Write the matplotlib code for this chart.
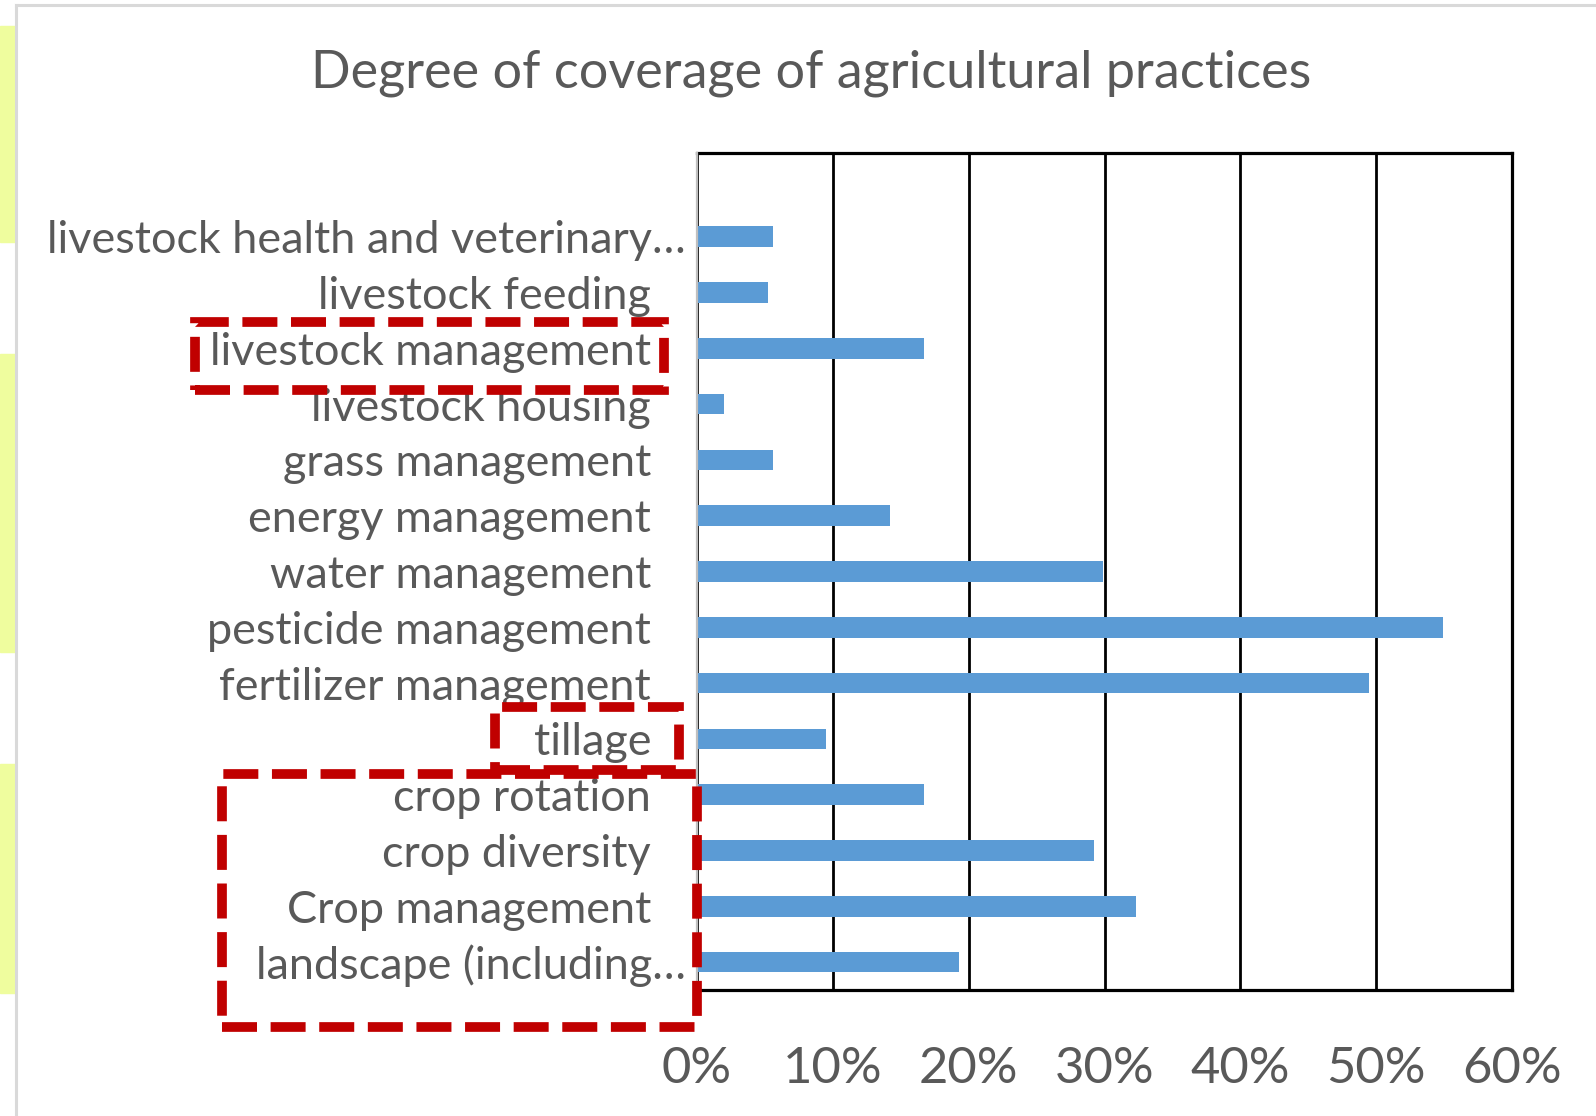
import matplotlib
matplotlib.use("Agg")
import matplotlib.pyplot as plt
from matplotlib.patches import Rectangle
from matplotlib.lines import Line2D
from matplotlib.ticker import PercentFormatter

plt.rcParams['font.family'] = ['Lato', 'DejaVu Sans']

# data, bottom to top
practices = [
    "landscape (including\u2026",
    "Crop management",
    "crop diversity",
    "crop rotation",
    "tillage",
    "fertilizer management",
    "pesticide management",
    "water management",
    "energy management",
    "grass management",
    "livestock housing",
    "livestock management",
    "livestock feeding",
    "livestock health and veterinary\u2026",
]
coverage = [19.3, 32.3, 29.2, 16.7, 9.5, 49.5, 54.9, 29.9, 14.2, 5.6, 2.0, 16.7, 5.2, 5.6]
xticks = [0, 10, 20, 30, 40, 50, 60]

W, H = 1596, 1116
fig = plt.figure(figsize=(W / 100, H / 100), dpi=100)
fig.patch.set_facecolor("white")

def fx(px):
    return px / W

def fy(py):
    return 1 - py / H

# yellow strips at the left edge
for y0, y1 in [(26, 242), (354, 652), (764, 993)]:
    fig.patches.append(Rectangle((0, fy(y1)), fx(15), fy(y0) - fy(y1),
                                 transform=fig.transFigure, color="#EFFD9E", zorder=0))
# light grey chart border
fig.lines.append(Line2D([fx(16), fx(16)], [fy(5), 0], transform=fig.transFigure,
                        color="#D9D9D9", lw=2.2))
fig.lines.append(Line2D([fx(16), 1], [fy(5), fy(5)], transform=fig.transFigure,
                        color="#D9D9D9", lw=2.2))

ax = fig.add_axes([fx(697), fy(990), fx(1512) - fx(697), fy(153) - fy(990)])
ax.barh(range(len(practices)), coverage, height=0.37, color="#5B9BD5", zorder=3)

ax.set_xlim(0, 60)
ax.set_ylim(-0.5, 14.5)
ax.set_xticks(xticks)
ax.xaxis.set_major_formatter(PercentFormatter(decimals=0))
ax.set_yticks(range(len(practices)))
ax.set_yticklabels(practices)
ax.grid(axis="x", color="black", lw=2.0, zorder=1)
ax.tick_params(axis="both", length=0, colors="#595959")
ax.tick_params(axis="y", labelsize=32.4)
ax.tick_params(axis="x", labelsize=36.5, pad=40)
for i, t in enumerate(ax.yaxis.get_major_ticks()):
    if practices[i].endswith("\u2026"):
        t.set_pad(8)
    else:
        t.set_pad(33)

for s in ["top", "right", "bottom"]:
    ax.spines[s].set_color("black")
    ax.spines[s].set_linewidth(2.3)
ax.spines["left"].set_color("#BFBFBF")
ax.spines["left"].set_linewidth(1.6)
ax.spines["left"].set_zorder(4)

fig.text(fx(811), fy(73), "Degree of coverage of agricultural practices",
         ha="center", va="center", fontsize=37.5, color="#595959")

# red dashed highlight boxes
for x0, y0, x1, y1 in [(195, 322, 664, 390), (495, 707, 679, 770), (222, 774, 697, 1027)]:
    fig.patches.append(Rectangle((fx(x0), fy(y1)), fx(x1) - fx(x0), fy(y0) - fy(y1),
                                 transform=fig.transFigure, fill=False,
                                 edgecolor="#C00000", lw=7, linestyle=(0, (3.6, 1.4)),
                                 zorder=10))

fig.savefig("out.png", dpi=100)
